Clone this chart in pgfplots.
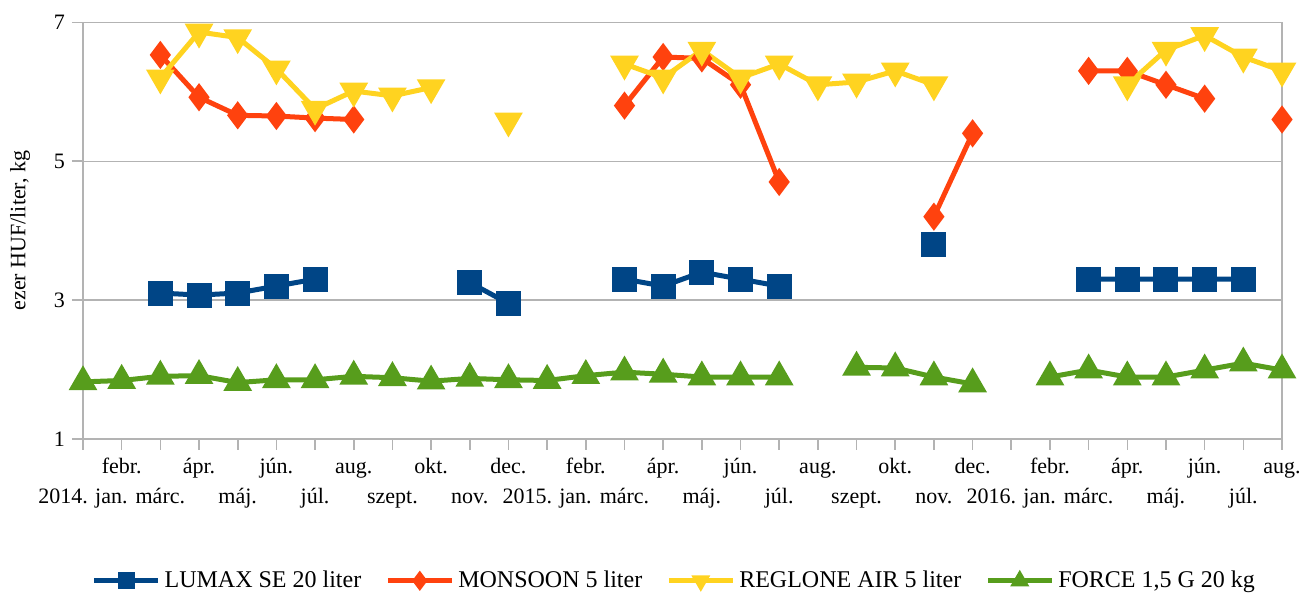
\documentclass[border=0pt]{standalone}
\usepackage{fontspec}
\setmainfont{LiberationSerif}[Extension=.ttf, UprightFont=*-Regular, BoldFont=*-Bold, ItalicFont=*-Italic]
\usepackage{pgfplots}
\pgfplotsset{compat=1.18}
\definecolor{cLumax}{HTML}{004586}
\definecolor{cMonsoon}{HTML}{FF420E}
\definecolor{cReglone}{HTML}{FFD320}
\definecolor{cForce}{HTML}{579D1C}
\definecolor{cGrid}{HTML}{B3B3B3}
\begin{document}
\begin{tikzpicture}
\begin{axis}[
  scale only axis, width=599.5pt, height=208.25pt,
  xmin=0, xmax=31, ymin=1, ymax=7,
  ytick={1,3,5,7},
  xtick={0,...,31},
  xticklabels={
    {\strut\\\strut 2014. jan.},{\strut febr.\\\strut},{\strut\\\strut márc.},{\strut ápr.\\\strut},
    {\strut\\\strut máj.},{\strut jún.\\\strut},{\strut\\\strut júl.},{\strut aug.\\\strut},
    {\strut\\\strut szept.},{\strut okt.\\\strut},{\strut\\\strut nov.},{\strut dec.\\\strut},
    {\strut\\\strut 2015. jan.},{\strut febr.\\\strut},{\strut\\\strut márc.},{\strut ápr.\\\strut},
    {\strut\\\strut máj.},{\strut jún.\\\strut},{\strut\\\strut júl.},{\strut aug.\\\strut},
    {\strut\\\strut szept.},{\strut okt.\\\strut},{\strut\\\strut nov.},{\strut dec.\\\strut},
    {\strut\\\strut 2016. jan.},{\strut febr.\\\strut},{\strut\\\strut márc.},{\strut ápr.\\\strut},
    {\strut\\\strut máj.},{\strut jún.\\\strut},{\strut\\\strut júl.},{\strut aug.\\\strut}},
  xticklabel style={align=center, font=\fontsize{11}{15}\selectfont, inner sep=1pt},
  yticklabel style={font=\fontsize{11}{13}\selectfont},
  /pgf/number format/assume math mode=true,
  ymajorgrids, grid style={cGrid, line width=0.6pt},
  axis line style={cGrid, line width=0.8pt},
  tick style={cGrid, line width=0.8pt},
  tick align=outside, major tick length=5.5pt, tick pos=left,
  ylabel={ezer HUF/liter, kg},
  every axis y label/.append style={at={(axis description cs:-0.0525,0.5)}, anchor=center, font=\fontsize{11}{13}\selectfont},
  unbounded coords=jump,
  clip=false,
  legend columns=4,
  legend style={draw=none, at={(0.494,-0.341)}, anchor=center, font=\fontsize{12}{14}\selectfont,
    /tikz/every even column/.append style={column sep=10pt}},
  legend image code/.code={\draw[mark repeat=2,mark phase=2,#1,mark size=3pt] plot coordinates {(0pt,0pt)(16pt,0pt)(32pt,0pt)};},
  every axis plot/.append style={line width=2.5pt},
]
\addplot[color=cLumax, mark=square*, mark size=5pt, mark options={solid}] coordinates {
 (2,3.10)(3,3.07)(4,3.10)(5,3.20)(6,3.30)(7,nan)
 (10,3.25)(11,2.95)(12,nan)
 (14,3.30)(15,3.20)(16,3.40)(17,3.30)(18,3.20)(19,nan)
 (22,3.80)(23,nan)
 (26,3.30)(27,3.30)(28,3.30)(29,3.30)(30,3.30)};
\addlegendentry{LUMAX SE 20 liter}
\addplot[color=cMonsoon, mark=diamond*, mark size=5pt, mark options={solid}] coordinates {
 (2,6.53)(3,5.92)(4,5.66)(5,5.65)(6,5.62)(7,5.60)(8,nan)
 (14,5.80)(15,6.50)(16,6.48)(17,6.10)(18,4.70)(19,nan)
 (22,4.20)(23,5.40)(24,nan)
 (26,6.30)(27,6.30)(28,6.10)(29,5.90)(30,nan)(31,5.60)};
\addlegendentry{MONSOON 5 liter}
\addplot[color=cReglone, mark=triangle*, mark size=5.8pt, mark options={solid, rotate=180}] coordinates {
 (2,6.20)(3,6.86)(4,6.78)(5,6.33)(6,5.75)(7,6.01)(8,5.94)(9,6.06)(10,nan)
 (11,5.58)(12,nan)
 (14,6.40)(15,6.20)(16,6.60)(17,6.20)(18,6.40)(19,6.10)(20,6.14)(21,6.30)(22,6.10)(23,nan)
 (27,6.10)(28,6.60)(29,6.81)(30,6.50)(31,6.30)};
\addlegendentry{REGLONE AIR 5 liter}
\addplot[color=cForce, mark=triangle*, mark size=5.8pt, mark options={solid}] coordinates {
 (0,1.82)(1,1.84)(2,1.90)(3,1.91)(4,1.81)(5,1.85)(6,1.85)(7,1.90)(8,1.88)(9,1.83)
 (10,1.87)(11,1.85)(12,1.84)(13,1.91)(14,1.96)(15,1.93)(16,1.89)(17,1.89)(18,1.89)(19,nan)
 (20,2.03)(21,2.02)(22,1.89)(23,1.79)(24,nan)
 (25,1.89)(26,1.99)(27,1.89)(28,1.89)(29,1.99)(30,2.09)(31,1.99)};
\addlegendentry{FORCE 1,5 G 20 kg}
\end{axis}
\pgfresetboundingbox
\path ([shift={(-41.5pt,-80.1pt)}]current axis.south west) rectangle ([shift={(9pt,11.15pt)}]current axis.north east);
\end{tikzpicture}
\end{document}
